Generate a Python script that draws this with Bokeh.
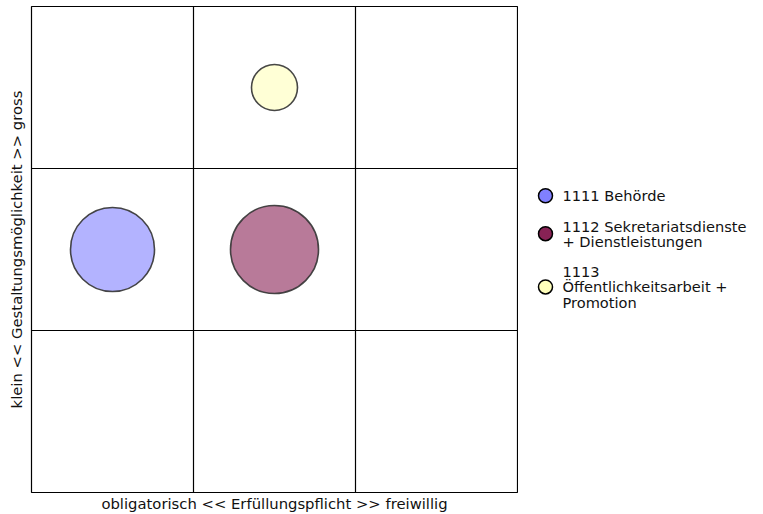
from bokeh.plotting import figure
from bokeh.layouts import row
from bokeh.models import ColumnDataSource, FixedTicker, Range1d
from bokeh.core.properties import value
from bokeh.embed import file_html
from bokeh.resources import INLINE

# ---- data ----
labels = ["1111 Behörde", "1112 Sekretariatsdienste\n+ Dienstleistungen", "1113\nÖffentlichkeitsarbeit +\nPromotion"]
erfuellung = [0.5, 1.5, 1.5]          # x: obligatorisch (0) .. freiwillig (3)
gestaltung = [1.5, 1.5, 2.5]          # y: klein (0) .. gross (3)
volumen = [84, 88, 46]                # bubble diameter (px)
colors = ["#8080ff", "#882255", "#ffffbb"]

FONT = "DejaVu Sans"
TOP = 6
FRAME = 486
H = 514

p = figure(frame_width=FRAME, frame_height=FRAME, x_range=(0, 3), y_range=(0, 3),
           output_backend="svg", toolbar_location=None,
           min_border_top=TOP, min_border_left=31, min_border_right=1,
           min_border_bottom=H - TOP - FRAME)

p.outline_line_color = "black"
p.outline_line_width = 1.2
p.outline_line_alpha = 1

for ax in (p.xaxis, p.yaxis):
    ax.ticker = FixedTicker(ticks=[])
    ax.major_tick_line_color = None
    ax.minor_tick_line_color = None
    ax.major_label_standoff = 0
    ax.axis_line_color = None
    ax.axis_label_text_font = FONT
    ax.axis_label_text_font_size = "14.8px"
    ax.axis_label_text_font_style = "normal"
    ax.axis_label_text_color = "#111111"
    ax.axis_label_standoff = 2
p.yaxis.axis_label_standoff = 7

p.xaxis.axis_label = "obligatorisch << Erfüllungspflicht >> freiwillig"
p.yaxis.axis_label = "klein << Gestaltungsmöglichkeit >> gross"

for g in (p.xgrid, p.ygrid):
    g.ticker = FixedTicker(ticks=[1, 2])
    g.grid_line_color = "black"
    g.grid_line_alpha = 1
    g.grid_line_width = 1.2

src = ColumnDataSource(dict(x=erfuellung, y=gestaltung, s=volumen, c=colors))
p.scatter("x", "y", size="s", source=src, fill_color="c", fill_alpha=0.6,
          line_color="#333333", line_width=1.6, line_alpha=0.9)

# ---- legend panel (separate figure; its frame is aligned with the main frame) ----
LW = 229
lg = figure(width=LW, height=H, x_range=Range1d(0, LW), y_range=Range1d(FRAME, 0),
            output_backend="svg", toolbar_location=None,
            min_border=0, outline_line_color=None)
lg.axis.visible = False
lg.grid.visible = False

line_h = 15.3
gap = 15
nlines = [lab.count("\n") + 1 for lab in labels]
heights = [n * line_h for n in nlines]
total = sum(heights) + gap * (len(labels) - 1)
center = FRAME / 2 - 0.5
top = center - total / 2
centers = []
for h in heights:
    centers.append(top + h / 2)
    top += h + gap

lsrc = ColumnDataSource(dict(x=[27] * len(labels), tx=[44] * len(labels),
                             y=centers, c=colors, t=labels))
lg.scatter("x", "y", size=14, source=lsrc, fill_color="c", line_color="black",
           line_width=1.5)
lg.text("tx", "y", text="t", source=lsrc, text_font_size="14.6px",
        text_font=value(FONT), text_baseline="middle", text_align="left",
        text_color="#111111", text_line_height=0.89)

layout = row(p, lg)
open("out.html", "w").write(file_html(layout, INLINE))
